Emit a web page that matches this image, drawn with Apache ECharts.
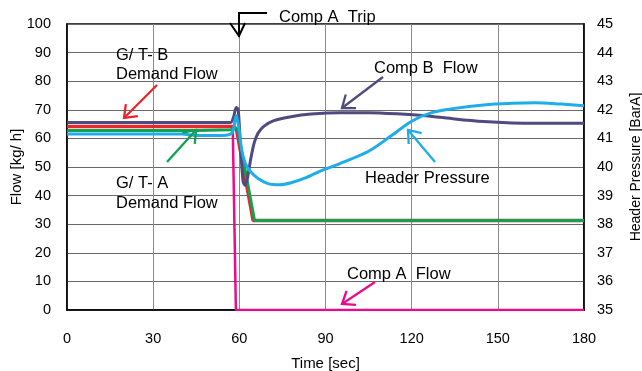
<!DOCTYPE html>
<html>
<head>
<meta charset="utf-8">
<script src="https://cdn.jsdelivr.net/npm/echarts@6/dist/echarts.min.js"></script>
<style>
  html, body { margin: 0; padding: 0; background: #fff; }
  #chart { width: 642px; height: 371px; }
</style>
</head>
<body>
<div id="chart"></div>
<script>
// Time axis ticks [sec]
const timeTicks = [0, 30, 60, 90, 120, 150, 180];
// Flow axis range [kg/h] and header pressure range [BarA]
const flowRange = [0, 100];
const pressureRange = [35, 45];

// [time sec, flow kg/h]
const compAFlow = [[0, 64.2], [57.7, 64.2], [58.8, 0], [180, 0]];
const gtbDemandFlow = [[0, 64.2], [58, 64.2], [59, 63.2], [64.8, 31.3], [180, 31.3]];
const gtaDemandFlow = [[0, 62.8], [45, 62.8], [57, 63.0], [58.6, 63.8], [59.4, 63.0], [65.3, 31.3], [180, 31.3]];
const compBFlow = [
  [0, 65.6], [57, 65.6], [58, 67.5], [58.9, 70.8], [59.6, 70.2], [60.4, 57], [61.3, 45], [62, 43.6],
  [62.8, 46], [64, 53], [65.2, 58.5], [66.5, 61.8], [68.5, 64.2], [72, 66.2], [78, 67.6], [85, 68.5],
  [95, 69], [105, 69], [115, 68.6], [125, 67.9], [135, 66.8], [145, 65.9], [155, 65.4], [165, 65.3], [180, 65.3]
];
// [time sec, pressure BarA]
const headerPressure = [
  [0, 41.15], [40, 41.15], [45, 41.1], [54, 41.1], [57.5, 41.2], [58.9, 41.8], [59.8, 41.4], [60.8, 40.6],
  [62, 40.15], [63.8, 39.85], [66.5, 39.6], [70, 39.42], [74, 39.38], [78, 39.45], [83, 39.62], [88, 39.85],
  [95, 40.12], [105, 40.55], [113, 41.1], [120, 41.6], [127, 41.9], [135, 42.05], [145, 42.17], [155, 42.23],
  [163, 42.25], [172, 42.2], [180, 42.14]
];

const colors = {
  compA: '#EA0A8C',
  gtb: '#E8262C',
  gta: '#12A24F',
  compB: '#4F4B80',
  pressure: '#1DAEE9'
};

const chart = echarts.init(document.getElementById('chart'));

// Open-headed arrow from (x1,y1) to (x2,y2), in pixels
function arrow(x1, y1, x2, y2, color) {
  const ang = Math.atan2(y1 - y2, x1 - x2);
  const len = 14, spread = 0.65;
  const a = [x2 + len * Math.cos(ang + spread), y2 + len * Math.sin(ang + spread)];
  const b = [x2 + len * Math.cos(ang - spread), y2 + len * Math.sin(ang - spread)];
  const st = { stroke: color, lineWidth: 2.3, fill: null, lineJoin: 'miter' };
  return [
    { type: 'line', shape: { x1: x1, y1: y1, x2: x2, y2: y2 }, style: st, z: 100 },
    { type: 'polyline', shape: { points: [a, [x2, y2], b] }, style: st, z: 100 }
  ];
}

function label(text, x, y) {
  return {
    type: 'text', x: x, y: y, z: 100,
    style: { text: text, font: '16.5px "Liberation Sans", Arial, sans-serif', fill: '#000', textVerticalAlign: 'middle' }
  };
}

const font = '"Liberation Sans", Arial, sans-serif';

const graphics = [
  label('G/ T- B', 116, 55),
  label('Demand Flow', 116, 74),
  label('G/ T- A', 116, 183),
  label('Demand Flow', 116, 203),
  label('Comp B  Flow', 374, 68),
  label('Header Pressure', 365, 178),
  label('Comp A  Flow', 347, 274),
  label('Comp A  Trip', 279, 17),
  ...arrow(157, 85, 124, 118, colors.gtb),
  ...arrow(167, 162, 196, 130, colors.gta),
  ...arrow(383, 77, 342, 108, colors.compB),
  ...arrow(435, 162, 408, 130, colors.pressure),
  ...arrow(375, 282, 342, 304, colors.compA),
  {
    type: 'polyline', z: 100,
    shape: { points: [[267, 13], [239, 13], [239, 37]] },
    style: { stroke: '#000', lineWidth: 2, fill: null }
  },
  {
    type: 'polyline', z: 100,
    shape: { points: [[230, 23], [239, 36], [245, 23]] },
    style: { stroke: '#000', lineWidth: 2, fill: null }
  }
];

function lineSeries(name, data, color, width, yIndex, smooth) {
  return {
    name: name, type: 'line', data: data, yAxisIndex: yIndex,
    showSymbol: false, symbol: 'none', smooth: smooth, silent: true,
    lineStyle: { color: color, width: width }, itemStyle: { color: color }
  };
}

chart.setOption({
  animation: false,
  backgroundColor: '#fff',
  grid: {
    left: 67, right: 58, top: 24, bottom: 61,
    containLabel: false, outerBoundsMode: 'none',
    show: true, borderColor: '#000', borderWidth: 1.5
  },
  xAxis: {
    type: 'value', min: timeTicks[0], max: timeTicks[timeTicks.length - 1], interval: 30,
    name: 'Time [sec]', nameLocation: 'middle', nameGap: 46, nameMoveOverlap: false,
    nameTextStyle: { fontFamily: font, fontSize: 15, color: '#000' },
    axisLine: { lineStyle: { color: '#000', width: 1.5 } },
    axisTick: { show: false },
    axisLabel: { fontFamily: font, fontSize: 14.5, color: '#000', margin: 21 },
    splitLine: { lineStyle: { color: '#8a8a8a', width: 1 } }
  },
  yAxis: [
    {
      type: 'value', min: flowRange[0], max: flowRange[1], interval: 10,
      name: 'Flow [kg/ h]', nameLocation: 'middle', nameGap: 43, nameMoveOverlap: false,
      nameTextStyle: { fontFamily: font, fontSize: 15, color: '#000' },
      axisLine: { show: true, lineStyle: { color: '#000', width: 1.5 } },
      axisTick: { show: false },
      axisLabel: { fontFamily: font, fontSize: 14.5, color: '#000', margin: 16 },
      splitLine: { lineStyle: { color: '#6a6a6a', width: 1 } }
    },
    {
      type: 'value', min: pressureRange[0], max: pressureRange[1], interval: 1,
      name: 'Header Pressure [BarA]', nameLocation: 'middle', nameGap: 45, nameMoveOverlap: false,
      nameTextStyle: { fontFamily: font, fontSize: 14, color: '#000' },
      axisLine: { show: true, lineStyle: { color: '#000', width: 1.5 } },
      axisTick: { show: false },
      axisLabel: { fontFamily: font, fontSize: 14.5, color: '#000', margin: 13 },
      splitLine: { show: false }
    }
  ],
  series: [
    lineSeries('Comp A Flow', compAFlow, colors.compA, 2.5, 0, false),
    lineSeries('G/T-B Demand Flow', gtbDemandFlow, colors.gtb, 3.5, 0, false),
    lineSeries('G/T-A Demand Flow', gtaDemandFlow, colors.gta, 3, 0, false),
    lineSeries('Comp B Flow', compBFlow, colors.compB, 3, 0, 0.25),
    lineSeries('Header Pressure', headerPressure, colors.pressure, 3, 1, 0.3)
  ],
  graphic: graphics
});
</script>
</body>
</html>
